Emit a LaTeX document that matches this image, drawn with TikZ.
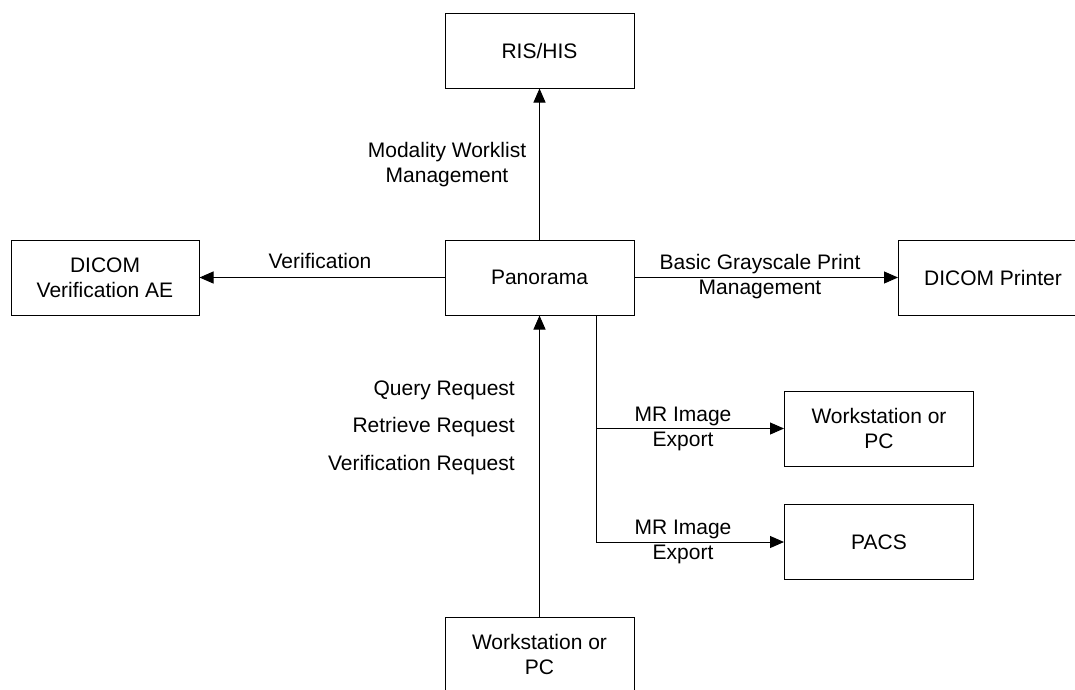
\documentclass[tikz,border=0pt]{standalone}
\usepackage{fontspec}
\setmainfont{Liberation Sans}
\usetikzlibrary{arrows.meta}
\begin{document}
\begin{tikzpicture}[x=1pt,y=-1pt,
    box/.style={draw,line width=1pt,minimum width=189pt,minimum height=75pt,
      align=center,inner sep=0pt,font=\fontsize{21}{25}\selectfont},
    lbl/.style={align=center,inner sep=0pt,font=\fontsize{21}{25}\selectfont},
    link/.style={line width=1pt,-{Triangle[length=14pt,width=12pt]}}]
      \clip (0,0) rectangle (1075,689);
      \draw
        (539.5,50.5) node[box] (ris){RIS/HIS}
        (539.5,277.5) node[box] (panorama){Panorama}
        (105,277.5) node[box,minimum width=188pt] (verif){DICOM\\Verification AE}
        (993,277.5) node[box] (printer){DICOM Printer}
        (879,428.5) node[box] (wsright){Workstation or\\PC}
        (879,542) node[box] (pacs){PACS}
        (539.5,654.5) node[box] (wsbottom){Workstation or\\PC};
      \coordinate (tap) at (596,542);
      \begin{scope}[link]
        \draw (panorama) to (ris);
        \draw (panorama) to (verif);
        \draw (panorama) to (printer);
        \draw (wsbottom) to (panorama);
        \draw (panorama.south -| tap) |- (pacs.west);
        \draw (tap |- wsright) to (wsright.west);
      \end{scope}
      \draw
        (447,164.5) node[lbl] (mwl){Modality Worklist\\Management}
        (320,261) node[lbl] (verlbl){Verification}
        (760,277) node[lbl] (print){Basic Grayscale Print\\Management}
        (683,428.5) node[lbl] (export1){MR Image\\Export}
        (683,542) node[lbl] (export2){MR Image\\Export}
        (515,390) node[lbl,anchor=east] (query){Query Request}
        (515,427.5) node[lbl,anchor=east] (retrieve){Retrieve Request}
        (515,465) node[lbl,anchor=east] (verreq){Verification Request};
    \end{tikzpicture}
\end{document}
